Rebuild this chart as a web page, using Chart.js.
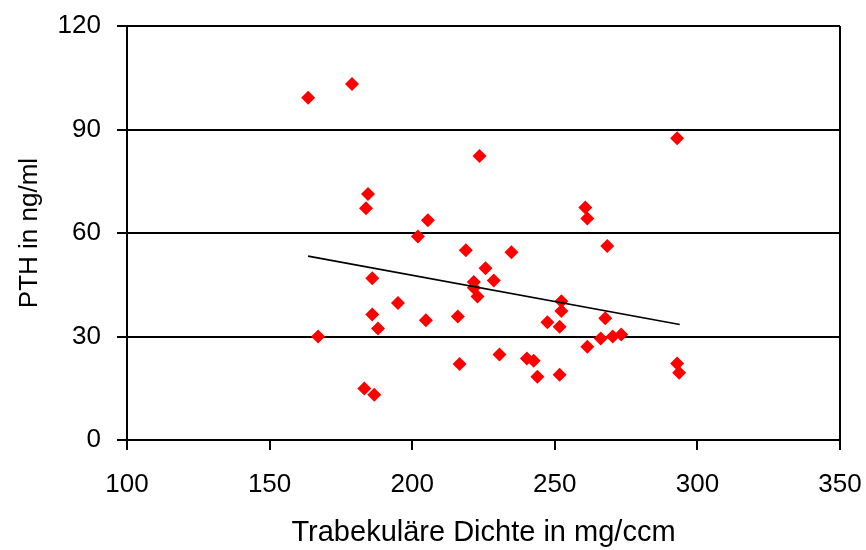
<!DOCTYPE html>
<html>
<head>
<meta charset="utf-8">
<script src="https://cdn.jsdelivr.net/npm/chart.js@4"></script>
<style>
  html, body { margin: 0; padding: 0; background: #fff; }
  #wrap { width: 866px; height: 550px; }
</style>
</head>
<body>
<div id="wrap"><canvas id="c" width="866" height="550"></canvas></div>
<script>
// Data
const densityX = [163.5, 178.9, 292.9, 223.6, 184.5, 183.8, 205.5, 202.0, 260.7, 261.4,
                  268.4, 218.8, 234.8, 186.0, 225.7, 228.6, 221.6, 221.6, 222.9, 252.3,
                  252.3, 195.0, 186.0, 188.0, 204.8, 216.0, 247.4, 251.7, 267.7, 167.0,
                  266.1, 270.3, 273.3, 261.4, 230.6, 216.6, 240.2, 242.6, 243.9, 251.7,
                  292.9, 293.6, 183.2, 186.7];
const pthY     = [99.2, 103.2, 87.5, 82.3, 71.3, 67.2, 63.7, 59.0, 67.4, 64.2,
                  56.2, 55.0, 54.4, 46.9, 49.8, 46.2, 45.8, 44.1, 41.6, 40.2,
                  37.4, 39.7, 36.4, 32.3, 34.7, 35.8, 34.1, 32.8, 35.3, 30.0,
                  29.4, 30.0, 30.6, 27.0, 24.8, 22.0, 23.6, 23.0, 18.3, 18.9,
                  22.2, 19.5, 14.9, 13.1];
const trendX = [163.5, 293.8];
const trendY = [53.3, 33.5];
const xTicks = [100, 150, 200, 250, 300, 350];
const yTicks = [0, 30, 60, 90, 120];
const xTitle = 'Trabekuläre Dichte in mg/ccm';
const yTitle = 'PTH in ng/ml';

const FONT = 'Liberation Sans, Arial, sans-serif';

const boxPlugin = {
  id: 'box',
  afterDatasetsDraw(chart) {
    const a = chart.chartArea, ctx = chart.ctx;
    ctx.save();
    ctx.strokeStyle = '#000';
    ctx.lineWidth = 2;
    ctx.beginPath();
    ctx.moveTo(a.right, a.top);
    ctx.lineTo(a.right, a.bottom);
    ctx.stroke();
    ctx.restore();
  }
};

new Chart(document.getElementById('c'), {
  type: 'scatter',
  data: {
    datasets: [
      {
        label: 'PTH',
        data: densityX.map((x, i) => ({ x: x, y: pthY[i] })),
        pointStyle: 'rectRot',
        pointRadius: 7,
        pointHoverRadius: 7,
        backgroundColor: '#ff0000',
        borderColor: '#ff0000',
        borderWidth: 0,
        order: 2
      },
      {
        label: 'Trend',
        type: 'line',
        data: trendX.map((x, i) => ({ x: x, y: trendY[i] })),
        borderColor: '#000',
        borderWidth: 1.6,
        pointRadius: 0,
        fill: false,
        order: 1
      }
    ]
  },
  options: {
    responsive: false,
    animation: false,
    devicePixelRatio: 1,
    layout: { padding: { top: 26, right: 26, bottom: 0, left: 14 } },
    plugins: { legend: { display: false }, tooltip: { enabled: false } },
    scales: {
      x: {
        type: 'linear',
        min: 100, max: 350,
        afterBuildTicks(s) { s.ticks = xTicks.map(v => ({ value: v })); },
        afterFit(s) { s.height = 110; s.paddingLeft = 0; s.paddingRight = 0; },
        grid: { drawOnChartArea: false, drawTicks: true, tickLength: 10, color: '#000', lineWidth: 2 },
        border: { display: true, color: '#000', width: 2 },
        ticks: { color: '#000', font: { family: FONT, size: 26 }, padding: 19, maxRotation: 0 },
        title: { display: true, text: xTitle, color: '#000', font: { family: FONT, size: 29 }, padding: { top: 6, bottom: 0 } }
      },
      y: {
        type: 'linear',
        min: 0, max: 120,
        afterBuildTicks(s) { s.ticks = yTicks.map(v => ({ value: v })); },
        afterFit(s) { s.width = 113; s.paddingTop = 0; s.paddingBottom = 0; },
        grid: { drawOnChartArea: true, drawTicks: true, tickLength: 10, color: '#000', lineWidth: 2 },
        border: { display: true, color: '#000', width: 2 },
        ticks: { color: '#000', font: { family: FONT, size: 26 }, padding: 16 },
        title: { display: true, text: yTitle, color: '#000', font: { family: FONT, size: 26 }, padding: { top: 0, bottom: 6 } }
      }
    }
  },
  plugins: [boxPlugin]
});
</script>
</body>
</html>
